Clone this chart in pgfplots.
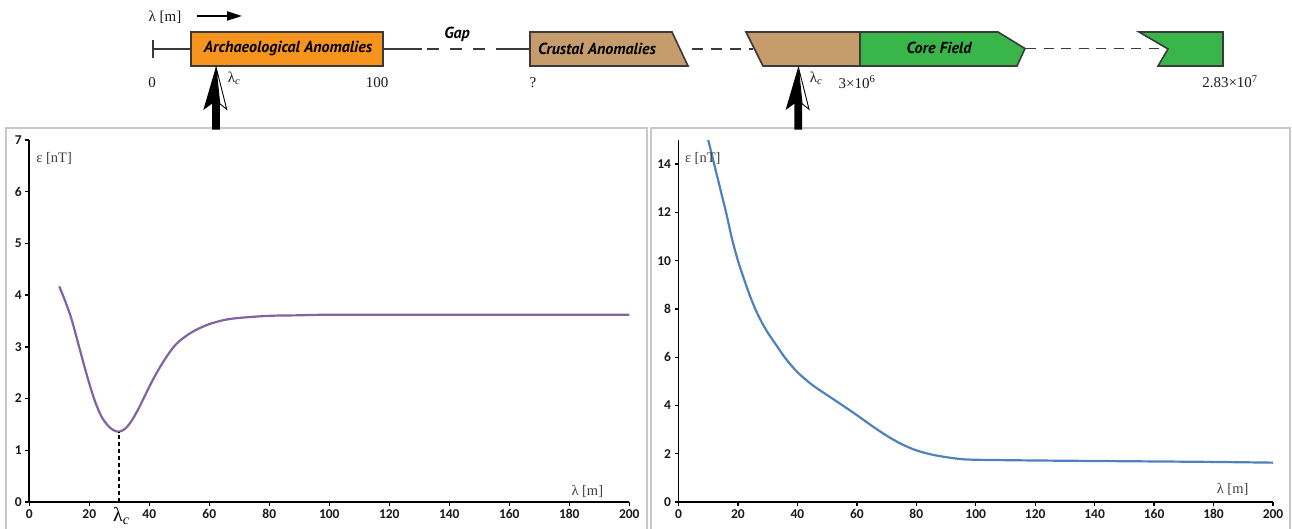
\documentclass[border=0pt]{standalone}
\usepackage{fontspec}
\usepackage{pgfplots}
\pgfplotsset{compat=1.18}
\usetikzlibrary{arrows.meta}
\setmainfont{Liberation Serif}
\newfontfamily\boxfont{PT Sans}
\newfontfamily\tickfont{Carlito}

\definecolor{orangebox}{HTML}{F7941D}
\definecolor{brownbox}{HTML}{C69C6D}
\definecolor{greenbox}{HTML}{39B54A}
\definecolor{edge}{HTML}{3A3A3A}
\definecolor{framegray}{HTML}{C8C8C8}
\definecolor{curvepurple}{HTML}{8064A2}
\definecolor{curveblue}{HTML}{4F81BD}
\definecolor{ticktext}{HTML}{1A1A1A}
\definecolor{labeltext}{HTML}{404040}

% misfit curves: error (nT) against wavelength (m)
\pgfplotstableread{
x y
10 4.17
12 3.88
14 3.55
16 3.13
18 2.70
20 2.29
22 1.93
24 1.66
26 1.49
28 1.39
30 1.36
32 1.42
34 1.56
36 1.76
38 1.99
40 2.23
42 2.45
44 2.65
46 2.83
48 2.99
50 3.11
53 3.24
56 3.34
60 3.44
65 3.52
70 3.56
80 3.60
90 3.61
100 3.62
150 3.62
200 3.62
}\archaeo

\pgfplotstableread{
x y
10 15.0
12 14.0
14 13.0
16 12.0
18 10.9
20 10.0
22 9.25
24 8.55
26 7.95
28 7.45
30 7.02
33 6.48
36 5.95
40 5.38
45 4.85
50 4.43
55 4.02
60 3.60
65 3.16
70 2.75
75 2.40
80 2.14
85 1.97
90 1.86
95 1.78
100 1.75
120 1.72
150 1.69
180 1.66
200 1.63
}\crustal

\pgfplotsset{
  misfit/.style={
    scale only axis, height=362pt,
    xmin=0, xmax=200, ymin=0,
    axis lines=left,
    axis line style={-, line width=1.7pt, black},
    xtick distance=20,
    tick align=outside, major tick length=4pt,
    tick style={line width=1.3pt, black},
    /pgf/number format/assume math mode=true,
    ticklabel style={font=\tickfont\bfseries\fontsize{13.5}{15}\selectfont, text=ticktext},
    clip=false,
  }
}

\newcommand{\bigarrow}[1]{%
  \begin{scope}[shift={(#1)}]
    \fill[black] (0,0) -- (-12.7,43.3) -- (-4,37) -- (-4,63) -- (3.8,63) -- (3.8,37) -- cycle;
    \filldraw[fill=white, draw=black, line width=0.9pt] (0,0) -- (10.7,42.6) -- (3.8,37) -- cycle;
  \end{scope}}

\begin{document}
\begin{tikzpicture}
\path[use as bounding box] (0,0) rectangle (1292pt,529pt);

% panel frames
\draw[framegray, line width=1.2pt] (6pt,-20pt) -- (6pt,401pt) -- (647pt,401pt) -- (647pt,-20pt);
\draw[framegray, line width=1.2pt] (651pt,-20pt) -- (651pt,401pt) -- (1290pt,401pt) -- (1290pt,-20pt);

\begin{axis}[misfit, at={(29.3pt,27pt)}, anchor=south west,
  width=600pt, ymax=7, ytick distance=1]
  \addplot[curvepurple, line width=2.2pt, smooth] table[x=x, y=y] {\archaeo};
  \addplot[black, line width=2pt, dash pattern=on 4pt off 3pt] coordinates {(30,0) (30,1.36)};
  \node[anchor=west, text=labeltext, font=\fontsize{14.5}{15}\selectfont] at (axis cs:1.2,6.65) {ε [nT]};
  \node[text=labeltext, font=\fontsize{14.5}{15}\selectfont] at (axis cs:186,0.21) {λ [m]};
  \node[anchor=north, inner sep=0pt, font=\fontsize{20}{20}\selectfont] at (axis cs:30,0) [yshift=-5pt, xshift=2pt] {λ\textsubscript{\textit{c}}};
\end{axis}

\begin{axis}[misfit, at={(678.5pt,27pt)}, anchor=south west,
  width=594.5pt, ymax=15, ytick={0,2,...,14}]
  \addplot[curveblue, line width=2.2pt, smooth] table[x=x, y=y] {\crustal};
  \node[anchor=west, text=labeltext, font=\fontsize{14.5}{15}\selectfont] at (axis cs:1.0,14.23) {ε [nT]};
  \node[text=labeltext, font=\fontsize{14.5}{15}\selectfont] at (axis cs:186.4,0.54) {λ [m]};
\end{axis}

% wavelength spectrum of magnetic sources
\begin{scope}[x=1pt, y=-1pt, yshift=529pt]
  \draw[edge, line width=1.5pt] (153,40) -- (153,58);
  \draw[edge, line width=1.5pt] (153,49) -- (191,49) (383,49) -- (422,49) (497,49) -- (530,49);
  \draw[edge, line width=1.7pt, dash pattern=on 12pt off 11pt] (427,49) -- (497,49);
  \draw[edge, line width=1.7pt, dash pattern=on 11pt off 8pt] (692,49) -- (753,49);
  \draw[edge, line width=1.7pt, dash pattern=on 10pt off 7.5pt] (1026,48.5) -- (1167,48.5);

  \filldraw[fill=orangebox, draw=edge, line width=1.6pt] (191,32) rectangle (383,66);
  \filldraw[fill=brownbox, draw=edge, line width=1.6pt] (530,32) -- (672,32) -- (688,66) -- (530,66) -- cycle;
  \filldraw[fill=brownbox, draw=edge, line width=1.6pt] (746,32) -- (860,32) -- (860,66) -- (763,66) -- cycle;
  \filldraw[fill=greenbox, draw=edge, line width=1.6pt] (860,32) -- (998,32) -- (1025,48.5) -- (1017,66) -- (860,66) -- cycle;
  \filldraw[fill=greenbox, draw=edge, line width=1.6pt] (1139,32) -- (1223,32) -- (1223,66) -- (1158,66) -- (1168,49) -- cycle;

  \begin{scope}[font=\boxfont\bfseries\itshape\fontsize{16}{18}\selectfont, text=black]
    \node at (288,48.5) {Archaeological Anomalies};
    \node at (597,48.5) {Crustal Anomalies};
    \node at (939,48) {Core Field};
    \node at (457,34) {Gap};
  \end{scope}

  \draw[black, line width=2pt, -{Triangle[length=15pt, width=9pt]}] (197,16) -- (242,16);

  \begin{scope}[font=\fontsize{15}{17}\selectfont, text=ticktext]
    \node at (165,17) {λ [m]};
    \node at (152,83) {0};
    \node at (377,83) {100};
    \node at (533,83) {?};
    \node at (857,82) {3×10\textsuperscript{6}};
    \node at (1230,82) {2.83×10\textsuperscript{7}};
    \node at (234,78) {λ\textsubscript{\textit{c}}};
    \node at (816,78) {λ\textsubscript{\textit{c}}};
  \end{scope}

  \bigarrow{216,66.7}
  \bigarrow{798.3,66.7}
\end{scope}
\end{tikzpicture}
\end{document}
